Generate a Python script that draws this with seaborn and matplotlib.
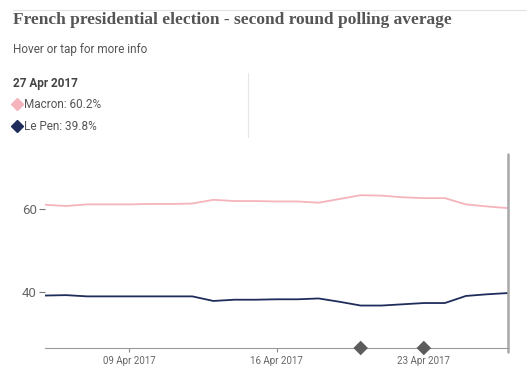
import pandas as pd
import matplotlib.pyplot as plt
import matplotlib.dates as mdates
import seaborn as sns

# =========================
# DATA
# =========================

dates = pd.date_range("2017-04-05", "2017-04-27", freq="D")

macron = [61.0, 60.7, 61.1, 61.1, 61.1, 61.2, 61.2, 61.3, 62.2, 61.9,
          61.9, 61.8, 61.8, 61.5, 62.4, 63.3, 63.2, 62.8, 62.6, 62.6,
          61.1, 60.6, 60.2]
le_pen = [39.2, 39.3, 39.0, 39.0, 39.0, 39.0, 39.0, 39.0, 37.9, 38.2,
          38.2, 38.3, 38.3, 38.5, 37.7, 36.8, 36.8, 37.1, 37.4, 37.4,
          39.1, 39.5, 39.8]

event_dates = pd.to_datetime(["2017-04-20", "2017-04-23"])
event_level = [26.6, 26.6]

y_ticks = [40, 60]
x_ticks = pd.to_datetime(["2017-04-09", "2017-04-16", "2017-04-23"])

macron_color = "#f5b3bb"
le_pen_color = "#1f2d5c"

df = pd.DataFrame({"Date": dates, "Macron": macron, "Le Pen": le_pen})
events = pd.DataFrame({"Date": event_dates, "y": event_level})

# =========================
# FIGURE
# =========================

sns.set_style("white")
plt.rcParams["font.family"] = ["Roboto", "DejaVu Sans"]

fig = plt.figure(figsize=(5.27, 3.74), dpi=100)
ax = fig.add_axes([45 / 527, 26 / 374, 463 / 527, 194 / 374])

sns.lineplot(data=df, x="Date", y="Macron", color=macron_color, lw=1.3, ax=ax)
sns.lineplot(data=df, x="Date", y="Le Pen", color=le_pen_color, lw=1.3, ax=ax)

ax.axvline(dates[-1], color="#a8a8a8", lw=1.8, ymin=-0.02, ymax=1, clip_on=False)

sns.scatterplot(data=events, x="Date", y="y", marker="D", s=55, color="#5c5c5c",
                edgecolor="none", ax=ax, clip_on=False, zorder=5)

ax.set_xlim(dates[0], dates[-1])
ax.set_ylim(26.6, 73.2)

ax.set_yticks(y_ticks)
ax.set_xticks(x_ticks)
ax.xaxis.set_major_formatter(mdates.DateFormatter("%d %b %Y"))

ax.tick_params(axis="y", length=4, width=0.8, color="#777777", labelcolor="#666666",
               labelsize=9.5, pad=2, left=True)
ax.tick_params(axis="x", length=3, width=0.8, color="#888888", labelcolor="#666666",
               labelsize=7, pad=3, bottom=True)

for side in ["top", "right", "left"]:
    ax.spines[side].set_visible(False)
ax.spines["bottom"].set_color("#999999")
ax.spines["bottom"].set_linewidth(0.8)

ax.set_xlabel("")
ax.set_ylabel("")

# =========================
# HEADER TEXT
# =========================

fig.add_artist(plt.Line2D([13 / 527, 1], [1 - 10 / 374, 1 - 10 / 374], color="#e2e2e2", lw=0.8))

fig.text(13 / 527, 1 - 20 / 374, "French presidential election - second round polling average",
         family="Liberation Serif", weight="bold", fontsize=12.5, color="#555555", va="center")
fig.text(13 / 527, 1 - 49 / 374, "Hover or tap for more info",
         fontsize=8.5, color="#555555", va="center")
fig.text(13 / 527, 1 - 84 / 374, "27 Apr 2017",
         fontsize=8.5, weight="bold", color="#444444", va="center")
fig.text(24 / 527, 1 - 104 / 374, "Macron: 60.2%",
         fontsize=8.5, color="#555555", va="center")
fig.text(24 / 527, 1 - 126 / 374, "Le Pen: 39.8%",
         fontsize=8.5, color="#555555", va="center")

fig.add_artist(plt.Line2D([17 / 527], [1 - 104 / 374], marker="D", ms=6,
                          color=macron_color, lw=0))
fig.add_artist(plt.Line2D([17 / 527], [1 - 126 / 374], marker="D", ms=6,
                          color=le_pen_color, lw=0))
fig.add_artist(plt.Line2D([248 / 527, 248 / 527], [1 - 73 / 374, 1 - 137 / 374],
                          color="#e6e6e6", lw=0.8))

plt.savefig("out.png", dpi=100)
